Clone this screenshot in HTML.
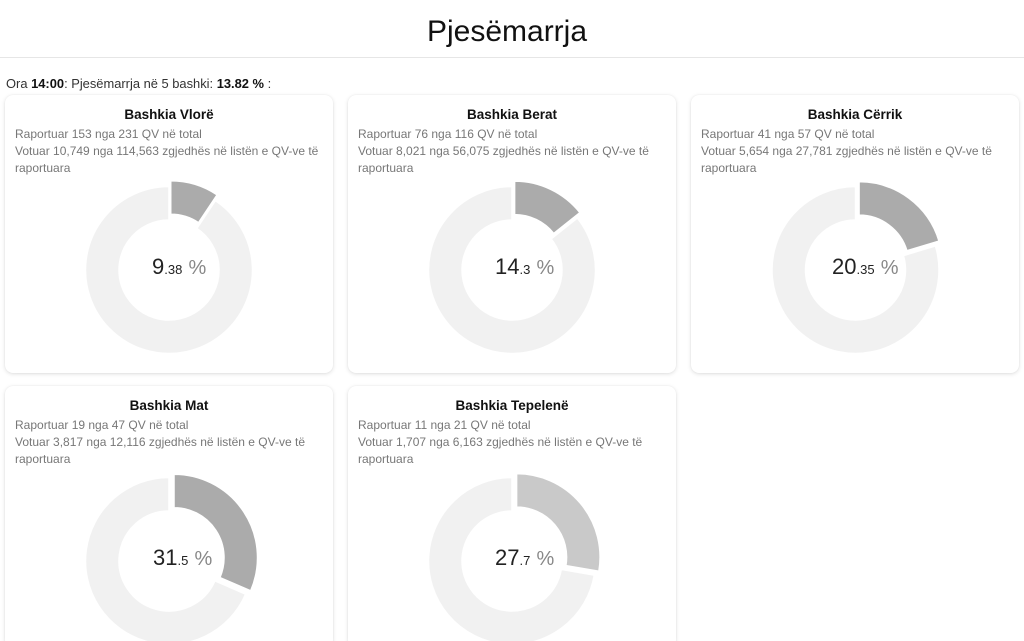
<!DOCTYPE html>
<html>
<head>
<meta charset="utf-8">
<style>
  html, body { margin:0; padding:0; width:1024px; height:641px; overflow:hidden; }
  body { background:#fff; position:relative; font-family:"Liberation Sans", Arial, sans-serif; }
  .title { position:absolute; left:0; width:1014px; top:14px; text-align:center; font-size:30px;
           color:#111; line-height:36px; }
  .rule { position:absolute; left:0; top:57px; width:1024px; height:1px; background:#e6e6e6; }
  .info { position:absolute; left:6px; top:76px; font-size:12.9px; color:#333; white-space:nowrap; }
  .info b { color:#111; }
  .card { position:absolute; width:328px; height:278px; background:#fff; border-radius:8px;
          box-shadow:0 1px 4px rgba(0,0,0,0.13), 0 0 1px rgba(0,0,0,0.08); }
  .card.r2 { height:262px; }
  .card h3 { margin:0; position:absolute; top:12px; left:0; width:100%; text-align:center;
             font-size:13.5px; font-weight:bold; color:#111; line-height:16px; }
  .card .sub { position:absolute; left:10px; top:31px; font-size:12px; line-height:17px; color:#777;
               white-space:nowrap; }
  .pct { position:absolute; white-space:nowrap; color:#222; font-size:22px; line-height:22px; }
  .pct small { font-size:13px; }
  .pct span { color:#888; font-size:20px; }
  svg.ov { position:absolute; left:0; top:0; }
</style>
</head>
<body>
<div class="title">Pjesëmarrja</div>
<div class="rule"></div>
<div class="info">Ora <b>14:00</b>: Pjesëmarrja në 5 bashki: <b>13.82 %</b> :</div>

<div class="card" style="left:5px;top:95px;">
  <h3>Bashkia Vlorë</h3>
  <div class="sub">Raportuar 153 nga 231 QV në total<br>Votuar 10,749 nga 114,563 zgjedhës në listën e QV-ve të<br>raportuara</div>
</div>
<div class="card" style="left:348px;top:95px;">
  <h3>Bashkia Berat</h3>
  <div class="sub">Raportuar 76 nga 116 QV në total<br>Votuar 8,021 nga 56,075 zgjedhës në listën e QV-ve të<br>raportuara</div>
</div>
<div class="card" style="left:691px;top:95px;">
  <h3>Bashkia Cërrik</h3>
  <div class="sub">Raportuar 41 nga 57 QV në total<br>Votuar 5,654 nga 27,781 zgjedhës në listën e QV-ve të<br>raportuara</div>
</div>
<div class="card r2" style="left:5px;top:386px;">
  <h3>Bashkia Mat</h3>
  <div class="sub">Raportuar 19 nga 47 QV në total<br>Votuar 3,817 nga 12,116 zgjedhës në listën e QV-ve të<br>raportuara</div>
</div>
<div class="card r2" style="left:348px;top:386px;">
  <h3>Bashkia Tepelenë</h3>
  <div class="sub">Raportuar 11 nga 21 QV në total<br>Votuar 1,707 nga 6,163 zgjedhës në listën e QV-ve të<br>raportuara</div>
</div>

<svg class="ov" width="1024" height="641" viewBox="0 0 1024 641">
  <!-- Vlore 9.38% -->
  <g transform="translate(169,270)">
    <path d="M46.41,-69.41 A83.5,83.5 0 1 1 0,-83.5 L0,-50 A50,50 0 1 0 27.79,-41.57 Z" fill="#f1f1f1" stroke="#fff" stroke-width="1.5"/>
    <path transform="translate(1.74,-5.74)" d="M0,-83.5 A83.5,83.5 0 0 1 46.41,-69.41 L27.79,-41.57 A50,50 0 0 0 0,-50 Z" fill="#ababab" stroke="#fff" stroke-width="1.5"/>
  </g>
  <!-- Berat 14.3% -->
  <g transform="translate(512,270)">
    <path d="M65.35,-51.98 A83.5,83.5 0 1 1 0,-83.5 L0,-50 A50,50 0 1 0 39.13,-31.13 Z" fill="#f1f1f1" stroke="#fff" stroke-width="1.5"/>
    <path transform="translate(2.61,-5.40)" d="M0,-83.5 A83.5,83.5 0 0 1 65.35,-51.98 L39.13,-31.13 A50,50 0 0 0 0,-50 Z" fill="#ababab" stroke="#fff" stroke-width="1.5"/>
  </g>
  <!-- Cerrik 20.35% -->
  <g transform="translate(855.5,270)">
    <path d="M79.96,-24.05 A83.5,83.5 0 1 1 0,-83.5 L0,-50 A50,50 0 1 0 47.88,-14.40 Z" fill="#f1f1f1" stroke="#fff" stroke-width="1.5"/>
    <path transform="translate(3.58,-4.82)" d="M0,-83.5 A83.5,83.5 0 0 1 79.96,-24.05 L47.88,-14.40 A50,50 0 0 0 0,-50 Z" fill="#ababab" stroke="#fff" stroke-width="1.5"/>
  </g>
  <!-- Mat 31.5% -->
  <g transform="translate(169,561)">
    <path d="M76.64,33.16 A83.5,83.5 0 1 1 0,-83.5 L0,-50 A50,50 0 1 0 45.89,19.86 Z" fill="#f1f1f1" stroke="#fff" stroke-width="1.5"/>
    <path transform="translate(5.01,-3.29)" d="M0,-83.5 A83.5,83.5 0 0 1 76.64,33.16 L45.89,19.86 A50,50 0 0 0 0,-50 Z" fill="#ababab" stroke="#fff" stroke-width="1.5"/>
  </g>
  <!-- Tepelene 27.7% -->
  <g transform="translate(512,561)">
    <path d="M82.30,14.10 A83.5,83.5 0 1 1 0,-83.5 L0,-50 A50,50 0 1 0 49.28,8.44 Z" fill="#f1f1f1" stroke="#fff" stroke-width="1.5"/>
    <path transform="translate(4.59,-3.87)" d="M0,-83.5 A83.5,83.5 0 0 1 82.30,14.10 L49.28,8.44 A50,50 0 0 0 0,-50 Z" fill="#c9c9c9" stroke="#fff" stroke-width="1.5"/>
  </g>
</svg>

<div class="pct" style="left:152px;top:256px;">9<small>.38</small> <span>%</span></div>
<div class="pct" style="left:495px;top:256px;">14<small>.3</small> <span>%</span></div>
<div class="pct" style="left:832px;top:256px;">20<small>.35</small> <span>%</span></div>
<div class="pct" style="left:153px;top:547px;">31<small>.5</small> <span>%</span></div>
<div class="pct" style="left:495px;top:547px;">27<small>.7</small> <span>%</span></div>
</body>
</html>
